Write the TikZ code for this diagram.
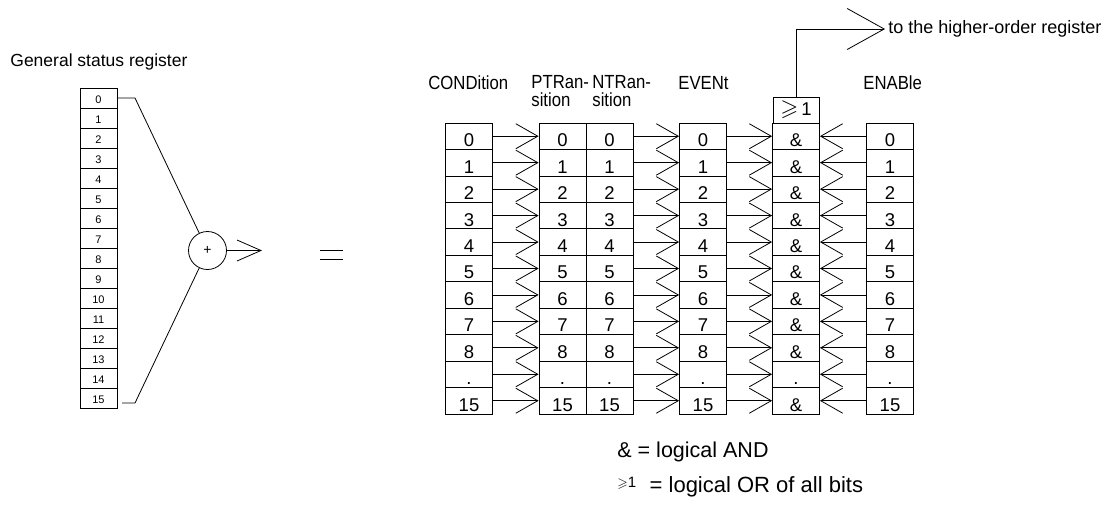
\documentclass[tikz,border=0pt]{standalone}
\usepackage{amssymb}
\usepackage{fontspec}
\setmainfont{Liberation Sans}
\newfontfamily\condensed[FakeStretch=0.88]{Liberation Sans}
\usetikzlibrary{arrows.meta}
\begin{document}
\begin{tikzpicture}[x=1pt,y=-1pt,line width=0.8pt,
  smallcell/.style={draw,minimum width=37pt,minimum height=20pt,inner sep=0pt,text height=10pt,text depth=0pt,font=\fontsize{11}{12}\selectfont},
  bigcell/.style={draw,minimum width=47pt,minimum height=26.45pt,inner sep=0pt,text height=21pt,text depth=0pt,font=\fontsize{18.5}{20}\selectfont},
  collabel/.style={font=\condensed\fontsize{19}{19}\selectfont,inner sep=0pt,align=left},
  barb/.style={-{Straight Barb[length=22pt,width=25pt]}},
  barbL/.style={-{Straight Barb[length=24pt,width=21pt]}},
  barbT/.style={-{Straight Barb[length=37pt,width=41pt]}},
  plaintext/.style={inner sep=0pt}]
\useasboundingbox (0,0) rectangle (1108,509);
% ---------- left register ----------
\node[plaintext,anchor=west,font=\fontsize{17.5}{18}\selectfont] (gtitle) at (10,62) {General status register};
\foreach \i in {0,...,15}{
  \node[smallcell] (r\i) at (98.5,{98+20*\i}) {\i};
}
\node[draw,circle,minimum size=38pt,inner sep=0pt,font=\fontsize{14}{14}\selectfont] (sum) at (207.5,250.5) {+};
\coordinate (k0) at (135,98);
\coordinate (k15a) at (122,403);
\coordinate (k15) at (135,403);
\draw (r0.east) -- (k0) -- (sum);
\draw (k15a) -- (k15) -- (sum);
\coordinate (out) at (262,250.5);
\draw[barbL] (sum.east) -- (out);
\draw (320,250) -- (343,250);
\draw (320,259) -- (343,259);
% ---------- right part ----------
\node[collabel,anchor=west] (lcond) at (428,83) {CONDition};
\node[collabel,anchor=north west] (lptr) at (531,75) {PTRan-\\[-1pt]sition};
\node[collabel,anchor=north west] (lntr) at (592,75) {NTRan-\\[-1pt]sition};
\node[collabel,anchor=west] (levent) at (678,83) {EVENt};
\node[collabel,anchor=west] (lenab) at (863,83) {ENABle};
\foreach \i/\t/\a in {0/0/\&,1/1/\&,2/2/\&,3/3/\&,4/4/\&,5/5/\&,6/6/\&,7/7/\&,8/8/\&,9/./.,10/15/\&}{
  \pgfmathsetmacro{\yy}{123+(\i+0.5)*26.45}
  \node[bigcell] (c\i) at (469,\yy) {\t};
  \node[bigcell] (p\i) at (562.5,\yy) {\t};
  \node[bigcell] (n\i) at (609.5,\yy) {\t};
  \node[bigcell] (e\i) at (703,\yy) {\t};
  \node[bigcell] (a\i) at (796,\yy) {\a};
  \node[bigcell] (b\i) at (890,\yy) {\t};
  \draw[barb] (c\i.east) -- (p\i.west);
  \draw[barb] (n\i.east) -- (e\i.west);
  \draw[barb] (e\i.east) -- (a\i.west);
  \draw[barb] (b\i.west) -- (a\i.east);
}
\node[draw,minimum width=46pt,minimum height=26pt,inner sep=0pt,font=\fontsize{18.5}{20}\selectfont] (or) at (796,110) {\scalebox{1.25}{$\geqslant$}\,1};
\coordinate (up) at (796,29);
\coordinate (tip) at (885,29);
\draw[barbT] (or.north) -- (up) -- (tip);
\node[plaintext,anchor=west,font=\fontsize{18}{19}\selectfont] (hreg) at (888,29) {to the higher-order register};
% ---------- legend ----------
\node[plaintext,anchor=west,font=\fontsize{21.5}{22}\selectfont] (leg1) at (617,452) {\& = logical AND};
\node[plaintext,anchor=west,font=\fontsize{22}{22}\selectfont] (leg2) at (617,487) {\raisebox{5pt}{\fontsize{15}{15}\selectfont\scalebox{0.9}{$\geqslant$}1}\,\, = logical OR of all bits};
\end{tikzpicture}
\end{document}
